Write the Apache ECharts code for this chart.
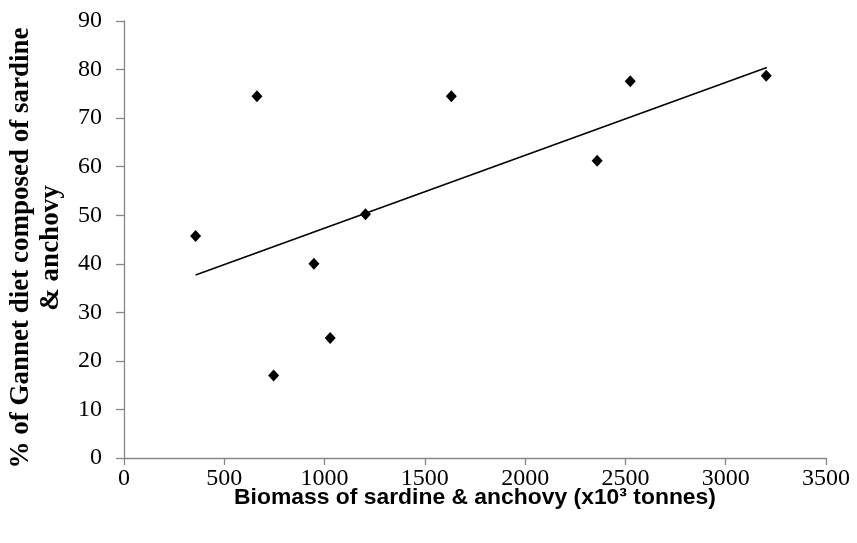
<!DOCTYPE html>
<html><head><meta charset="utf-8">
<script src="https://cdn.jsdelivr.net/npm/echarts@6/dist/echarts.min.js"></script>
<style>html,body{margin:0;padding:0;background:#fff}#c{width:857px;height:543px}</style>
</head><body><div id="c"></div>
<script>
const biomass = [357, 663, 746, 947, 1028, 1204, 1632, 2359, 2524, 3202];
const dietPct = [45.7, 74.5, 17.0, 40.0, 24.7, 50.2, 74.5, 61.2, 77.6, 78.7];
const trendX = [357, 3205];
const trendY = [37.7, 80.4];
const xTitle = 'Biomass of sardine & anchovy (x10³ tonnes)';
const yTitle = '% of Gannet diet composed of sardine\n& anchovy';

const chart = echarts.init(document.getElementById('c'), null, {renderer: 'canvas'});
const axisCol = '#868686';
const serif = 'Liberation Serif';
chart.setOption({
  animation: false,
  backgroundColor: '#fff',
  grid: {left: 124, right: 31, top: 21, bottom: 85, containLabel: false, outerBoundsMode: 'none'},
  xAxis: {
    type: 'value', min: 0, max: 3500, interval: 500,
    splitLine: {show: false},
    axisLine: {show: true, onZero: false, lineStyle: {color: axisCol, width: 1.3}},
    axisTick: {show: true, length: 7, lineStyle: {color: axisCol, width: 1.3}},
    axisLabel: {margin: 12, color: '#000', fontFamily: serif, fontSize: 24, lineHeight: 18,
      formatter: v => String(v)}
  },
  yAxis: {
    type: 'value', min: 0, max: 90, interval: 10,
    splitLine: {show: false},
    axisLine: {show: true, onZero: false, lineStyle: {color: axisCol, width: 1.3}},
    axisTick: {show: true, length: 8, lineStyle: {color: axisCol, width: 1.3}},
    axisLabel: {margin: 22, color: '#000', fontFamily: serif, fontSize: 24, lineHeight: 18,
      formatter: v => String(v)}
  },
  graphic: [{
    type: 'text',
    x: 36, y: 248,
    rotation: Math.PI / 2,
    style: {
      text: yTitle,
      fill: '#000',
      fontFamily: serif,
      fontWeight: 'bold',
      fontSize: 27,
      lineHeight: 30,
      align: 'center',
      verticalAlign: 'middle'
    }
  }, {
    type: 'text',
    x: 475, y: 498,
    scaleX: 1.04,
    style: {
      text: xTitle,
      fill: '#000',
      fontFamily: 'Liberation Sans',
      fontWeight: 'bold',
      fontSize: 22,
      lineHeight: 20,
      align: 'center',
      verticalAlign: 'middle'
    }
  }],
  series: [
    {
      type: 'line',
      data: trendX.map((x, i) => [x, trendY[i]]),
      symbol: 'none',
      lineStyle: {color: '#000', width: 1.6},
      z: 2
    },
    {
      type: 'scatter',
      data: biomass.map((x, i) => [x, dietPct[i]]),
      symbol: 'diamond',
      symbolSize: [11, 12],
      itemStyle: {color: '#000', opacity: 1},
      z: 3
    }
  ]
});
</script></body></html>
